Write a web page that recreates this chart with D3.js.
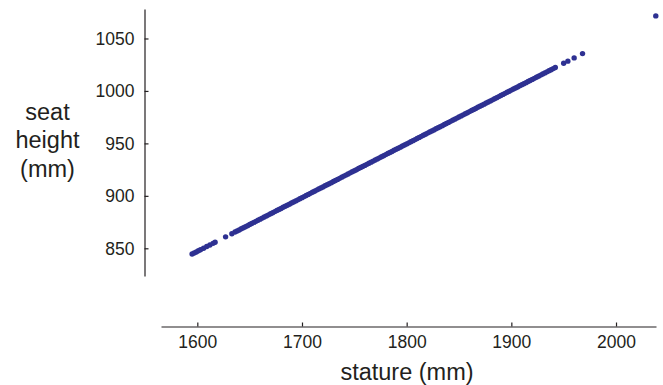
<!DOCTYPE html>
<html>
<head>
<meta charset="utf-8">
<script src="https://cdn.jsdelivr.net/npm/d3@7"></script>
<style>
  html, body { margin: 0; padding: 0; background: #fff; }
  svg text { font-family: "Liberation Sans", Arial, Helvetica, sans-serif; fill: #231f20; }
</style>
</head>
<body>
<svg id="chart" width="663" height="385"></svg>
<script>
// Data
const stature = [
  1595, 1597, 1599, 1601, 1603, 1606, 1609, 1612, 1615, 1617, 1627, 1633, 1636,
  1638, 1640, 1642, 1644, 1646, 1648, 1650, 1652, 1654, 1656, 1658, 1660, 1662, 1664, 1666, 1668,
  1670, 1672, 1674, 1676, 1678, 1680, 1682, 1684, 1686, 1688, 1690, 1692, 1694, 1696, 1698,
  1700, 1702, 1704, 1706, 1708, 1710, 1712, 1714, 1716, 1718, 1720, 1722, 1724, 1726, 1728,
  1730, 1732, 1734, 1736, 1738, 1740, 1742, 1744, 1746, 1748, 1750, 1752, 1754, 1756, 1758,
  1760, 1762, 1764, 1766, 1768, 1770, 1772, 1774, 1776, 1778, 1780, 1782, 1784, 1786, 1788,
  1790, 1792, 1794, 1796, 1798,
  1800, 1802, 1804, 1806, 1808, 1810, 1812, 1814, 1816, 1818, 1820, 1822, 1824, 1826, 1828,
  1830, 1832, 1834, 1836, 1838, 1840, 1842, 1844, 1846, 1848, 1850, 1852, 1854, 1856, 1858,
  1860, 1862, 1864, 1866, 1868, 1870, 1872, 1874, 1876, 1878, 1880, 1882, 1884, 1886, 1888,
  1890, 1892, 1894, 1896, 1898,
  1900, 1902, 1904, 1906, 1908, 1910, 1912, 1914, 1916, 1918, 1920, 1922, 1924, 1926, 1928,
  1930, 1932, 1934, 1936, 1938, 1940, 1942, 1950, 1954, 1960, 1968, 2038
];
const seatHeight = [
  844.5, 845.5, 846.5, 847.6, 848.6, 850.1, 851.7, 853.2, 854.7, 855.8, 860.9, 863.9, 865.5,
  866.5, 867.5, 868.6, 869.6, 870.6, 871.6, 872.7, 873.7, 874.7, 875.7, 876.8, 877.8, 878.8, 879.8, 880.9, 881.9,
  882.9, 883.9, 885.0, 886.0, 887.0, 888.0, 889.1, 890.1, 891.1, 892.1, 893.2, 894.2, 895.2, 896.2, 897.3,
  898.3, 899.3, 900.3, 901.4, 902.4, 903.4, 904.4, 905.5, 906.5, 907.5, 908.5, 909.6, 910.6, 911.6, 912.6,
  913.7, 914.7, 915.7, 916.7, 917.8, 918.8, 919.8, 920.8, 921.9, 922.9, 923.9, 924.9, 926.0, 927.0, 928.0,
  929.0, 930.0, 931.1, 932.1, 933.1, 934.1, 935.2, 936.2, 937.2, 938.2, 939.3, 940.3, 941.3, 942.3, 943.4,
  944.4, 945.4, 946.4, 947.5, 948.5,
  949.5, 950.5, 951.6, 952.6, 953.6, 954.6, 955.7, 956.7, 957.7, 958.7, 959.8, 960.8, 961.8, 962.8, 963.9,
  964.9, 965.9, 966.9, 968.0, 969.0, 970.0, 971.0, 972.1, 973.1, 974.1, 975.1, 976.2, 977.2, 978.2, 979.2,
  980.3, 981.3, 982.3, 983.3, 984.4, 985.4, 986.4, 987.4, 988.5, 989.5, 990.5, 991.5, 992.6, 993.6, 994.6,
  995.6, 996.7, 997.7, 998.7, 999.7,
  1000.8, 1001.8, 1002.8, 1003.8, 1004.9, 1005.9, 1006.9, 1007.9, 1009.0, 1010.0, 1011.0, 1012.0, 1013.1, 1014.1, 1015.1,
  1016.1, 1017.2, 1018.2, 1019.2, 1020.2, 1021.3, 1022.3, 1026.4, 1028.4, 1031.5, 1035.6, 1071.5
];
const xTicks = [1600, 1700, 1800, 1900, 2000];
const yTicks = [850, 900, 950, 1000, 1050];
const xDomain = [1565.3, 2038.2];
const yDomain = [823.6, 1078.1];
const xTitle = "stature (mm)";
const yTitleLines = ["seat", "height", "(mm)"];

const svg = d3.select("#chart");
const ink = "#231f20";
const dotColor = "#2e3192";

const x = d3.scaleLinear().domain(xDomain).range([161, 656]);
const y = d3.scaleLinear().domain(yDomain).range([276, 9]);

// X axis (ticks pointing inward / up)
const xAxis = d3.axisBottom(x).tickValues(xTicks).tickFormat(d3.format("d"))
  .tickSizeInner(-4).tickSizeOuter(0).tickPadding(0);
const gx = svg.append("g").attr("transform", "translate(0,326.5)").call(xAxis);
gx.select(".domain").attr("stroke", ink).attr("stroke-width", 1.2);
gx.selectAll(".tick line").attr("stroke", ink).attr("stroke-width", 1.2);
gx.selectAll(".tick text").attr("y", 21.5).attr("dy", null)
  .style("font-size", "17.5px").style("fill", ink);

// Y axis (ticks pointing inward / right)
const yAxis = d3.axisLeft(y).tickValues(yTicks).tickFormat(d3.format("d"))
  .tickSizeInner(-4).tickSizeOuter(0).tickPadding(0);
const gy = svg.append("g").attr("transform", "translate(144.5,0)").call(yAxis);
gy.select(".domain").attr("stroke", ink).attr("stroke-width", 1.2);
gy.selectAll(".tick line").attr("stroke", ink).attr("stroke-width", 1.2);
gy.selectAll(".tick text").attr("x", -10).attr("dy", "0.34em")
  .style("font-size", "17.5px").style("fill", ink);

// Points
svg.append("g").selectAll("circle")
  .data(stature.map((s, i) => ({ s, h: seatHeight[i] })))
  .join("circle")
  .attr("cx", d => x(d.s))
  .attr("cy", d => y(d.h))
  .attr("r", 2.7)
  .attr("fill", dotColor);

// Axis titles
svg.append("text")
  .attr("x", 407).attr("y", 380)
  .attr("text-anchor", "middle")
  .style("font-size", "23.5px")
  .text(xTitle);

svg.append("g").selectAll("text")
  .data(yTitleLines)
  .join("text")
  .attr("x", 47.5)
  .attr("y", (d, i) => 120 + i * 28.3)
  .attr("text-anchor", "middle")
  .style("font-size", "23.5px")
  .text(d => d);
</script>
</body>
</html>
